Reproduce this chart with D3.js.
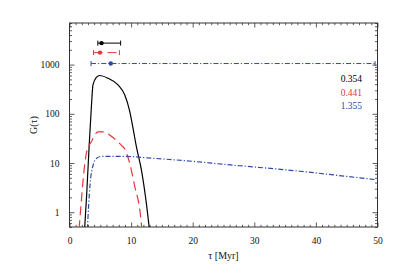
<!DOCTYPE html>
<html>
<head>
<meta charset="utf-8">
<script src="https://cdn.jsdelivr.net/npm/d3@7"></script>
<style>
  html, body { margin: 0; padding: 0; background: #fff; }
  svg text { font-family: "Liberation Serif", "DejaVu Serif", serif; }
</style>
</head>
<body>
<div id="chart"></div>
<script>
// curves (tau in Myr, G(tau))
const tauBlack = [2.45, 2.79, 3.17, 3.54, 3.81, 4.35, 4.9, 6.25, 7.87, 8.96, 9.77, 10.31, 10.84, 11.72, 12.5, 12.95];
const gBlack   = [0.45, 2.3, 20, 131, 388, 547, 600, 527, 388, 243, 113, 51, 22, 6.7, 1.44, 0.48];

const tauRed = [1.55, 1.87, 2.24, 2.79, 3.54, 4.63, 5.44, 6.79, 8.4, 9.0, 9.82, 10.63, 11.44, 11.75];
const gRed   = [0.45, 1.4, 5, 17, 27, 43, 43, 35, 23, 19, 9.3, 3.2, 1.05, 0.45];

const tauBlue = [2.9, 3.33, 3.86, 4.4, 5.2, 9.0, 13.1, 20, 25, 30, 37.4, 43, 49.6];
const gBlue   = [0.45, 3.6, 9.3, 12.5, 13.6, 13.6, 12.6, 10.8, 9.4, 8.3, 6.8, 5.7, 4.6];

// error bars at the top: centre, low, high, height
const errMid = [5.2, 4.95, 6.7];
const errLo  = [4.6, 3.9, 3.5];
const errHi  = [8.3, 8.1, 49.6];
const errG   = [2730, 1750, 1050];

const labels = ['0.354', '0.441', '1.355'];
const colors = ['#000000', '#e8353b', '#3049a8'];
const dashes = [null, '9,5', '5,2,1.2,2'];

const xTicks = [0, 10, 20, 30, 40, 50];
const yTicks = [1, 10, 100, 1000];

const W = 399, H = 273;
const margin = { top: 23, right: 21.5, bottom: 46, left: 69.5 };
const width = W - margin.left - margin.right;
const height = H - margin.top - margin.bottom;
const serif = '"Liberation Serif", "DejaVu Serif", serif';

const svg = d3.select('#chart').append('svg')
  .attr('width', W)
  .attr('height', H)
  .attr('font-family', serif);

svg.append('defs').append('clipPath')
  .attr('id', 'plotclip')
  .append('rect')
  .attr('width', width)
  .attr('height', height);

const g = svg.append('g')
  .attr('transform', `translate(${margin.left},${margin.top})`);

const x = d3.scaleLinear().domain([0, 50]).range([0, width]);
const y = d3.scaleLog().domain([0.5, 7000]).range([height, 0]);

// minor ticks
const xMinor = d3.range(0, 51).filter(v => v % 10 !== 0);
const yMinor = [];
[0.1, 1, 10, 100, 1000].forEach(d => {
  for (let k = 2; k <= 9; k++) {
    const v = d * k;
    if (v >= 0.5 && v <= 7000) yMinor.push(v);
  }
});

function styleAxis(sel) {
  sel.attr('font-family', serif);
  sel.select('.domain').remove();
  sel.selectAll('.tick line').attr('stroke', '#333').attr('stroke-width', 0.8);
  sel.selectAll('.tick text')
    .attr('font-size', 9.5)
    .attr('fill', '#111');
}

// bottom
g.append('g')
  .attr('transform', `translate(0,${height})`)
  .call(d3.axisBottom(x).tickValues(xTicks).tickSize(-4.5).tickPadding(10).tickFormat(d3.format('d')))
  .call(styleAxis);
g.append('g')
  .attr('transform', `translate(0,${height})`)
  .call(d3.axisBottom(x).tickValues(xMinor).tickSize(-2.2).tickFormat(''))
  .call(styleAxis);
// top
g.append('g')
  .call(d3.axisTop(x).tickValues(xTicks).tickSize(-4.5).tickFormat(''))
  .call(styleAxis);
g.append('g')
  .call(d3.axisTop(x).tickValues(xMinor).tickSize(-2.2).tickFormat(''))
  .call(styleAxis);
// left
g.append('g')
  .call(d3.axisLeft(y).tickValues(yTicks).tickSize(-5).tickPadding(10).tickFormat(d3.format('d')))
  .call(styleAxis);
g.append('g')
  .call(d3.axisLeft(y).tickValues(yMinor).tickSize(-2.5).tickFormat(''))
  .call(styleAxis);
// right
g.append('g')
  .attr('transform', `translate(${width},0)`)
  .call(d3.axisRight(y).tickValues(yTicks).tickSize(-5).tickFormat(''))
  .call(styleAxis);
g.append('g')
  .attr('transform', `translate(${width},0)`)
  .call(d3.axisRight(y).tickValues(yMinor).tickSize(-2.5).tickFormat(''))
  .call(styleAxis);

// frame
g.append('rect')
  .attr('width', width)
  .attr('height', height)
  .attr('fill', 'none')
  .attr('stroke', '#333')
  .attr('stroke-width', 1);

// curves
const line = d3.line()
  .x(d => x(d[0]))
  .y(d => y(d[1]))
  .curve(d3.curveMonotoneX);

const series = [
  d3.zip(tauBlack, gBlack),
  d3.zip(tauRed, gRed),
  d3.zip(tauBlue, gBlue)
];

const plot = g.append('g').attr('clip-path', 'url(#plotclip)');

series.forEach((s, i) => {
  plot.append('path')
    .datum(s)
    .attr('d', line)
    .attr('fill', 'none')
    .attr('stroke', colors[i])
    .attr('stroke-width', 1.2)
    .attr('stroke-dasharray', dashes[i]);
});

// error bars
errMid.forEach((m, i) => {
  const yy = y(errG[i]);
  const eb = g.append('g');
  eb.append('line')
    .attr('x1', x(errLo[i])).attr('x2', x(errHi[i]))
    .attr('y1', yy).attr('y2', yy)
    .attr('stroke', colors[i])
    .attr('stroke-width', 1)
    .attr('stroke-dasharray', dashes[i]);
  [errLo[i], errHi[i]].forEach(v => {
    eb.append('line')
      .attr('x1', x(v)).attr('x2', x(v))
      .attr('y1', yy - 2.5).attr('y2', yy + 2.5)
      .attr('stroke', colors[i])
      .attr('stroke-width', 1);
  });
  eb.append('circle')
    .attr('cx', x(m))
    .attr('cy', yy)
    .attr('r', 2.2)
    .attr('fill', colors[i]);
});

// legend values
labels.forEach((t, i) => {
  g.append('text')
    .attr('x', 362 - margin.left)
    .attr('y', 82 - margin.top + i * 13.5)
    .attr('text-anchor', 'end')
    .attr('font-size', 9.5)
    .attr('fill', colors[i])
    .text(t);
});

// axis titles
svg.append('text')
  .attr('x', margin.left + width / 2)
  .attr('y', 259)
  .attr('text-anchor', 'middle')
  .attr('font-size', 10)
  .attr('fill', '#111')
  .text('τ [Myr]');

svg.append('text')
  .attr('transform', `translate(37,${margin.top + height / 2}) rotate(-90)`)
  .attr('text-anchor', 'middle')
  .attr('font-size', 10)
  .attr('fill', '#111')
  .text('G(τ)');
</script>
</body>
</html>
